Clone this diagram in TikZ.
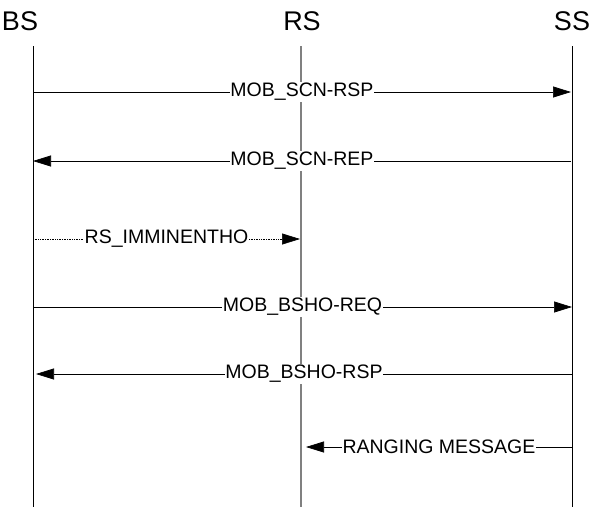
\documentclass[tikz,border=0pt]{standalone}
\usepackage{fontspec}
\setmainfont{Liberation Sans}
\usetikzlibrary{arrows.meta}
\begin{document}
\begin{tikzpicture}[x=1pt,y=-1pt,
  head/.style={font=\fontsize{27}{27}\selectfont, inner sep=0pt, anchor=base},
  life/.style={black, line width=0.8pt},
  rslife/.style={gray, line width=1.5pt},
  msg/.style={black, line width=0.7pt, -{Triangle[length=18pt,width=11pt]}},
  dmsg/.style={msg, densely dotted, line width=0.6pt},
  lbl/.style={fill=white, inner sep=0.8pt, font=\fontsize{19.5}{19.5}\selectfont}]
\useasboundingbox (0,0) rectangle (594,507);
% headers
\node[head] (bs) at (20,30) {BS};
\node[head] (rs) at (302,30) {RS};
\node[head] (ss) at (572,30) {SS};
% lifeline ends
\coordinate (bsT) at (33,46); \coordinate (bsB) at (33,507);
\coordinate (rsT) at (301,46); \coordinate (rsB) at (301,507);
\coordinate (ssT) at (572,46); \coordinate (ssB) at (572,507);
\draw[life] (bsT) -- (bsB);
\draw[rslife] (rsT) -- (rsB);
\draw[life] (ssT) -- (ssB);
% message anchor points
\coordinate (a1) at (33,92);  \coordinate (b1) at (571,92);
\coordinate (a2) at (571,161); \coordinate (b2) at (33,161);
\coordinate (a3) at (33,239); \coordinate (b3) at (300,239);
\coordinate (a4) at (33,307); \coordinate (b4) at (572,307);
\coordinate (a5) at (572,374); \coordinate (b5) at (36,374);
\coordinate (a6) at (572,447); \coordinate (b6) at (306,447);
\draw[msg] (a1) -- node[lbl] (m1) {MOB\_SCN-RSP} (b1);
\draw[msg] (a2) -- node[lbl] (m2) {MOB\_SCN-REP} (b2);
\draw[dmsg] (a3) -- node[lbl] (m3) {RS\_IMMINENTHO} (b3);
\draw[msg] (a4) -- node[lbl] (m4) {MOB\_BSHO-REQ} (b4);
\draw[msg] (a5) -- node[lbl] (m5) {MOB\_BSHO-RSP} (b5);
\draw[msg] (a6) -- node[lbl] (m6) {RANGING MESSAGE} (b6);
\end{tikzpicture}
\end{document}
